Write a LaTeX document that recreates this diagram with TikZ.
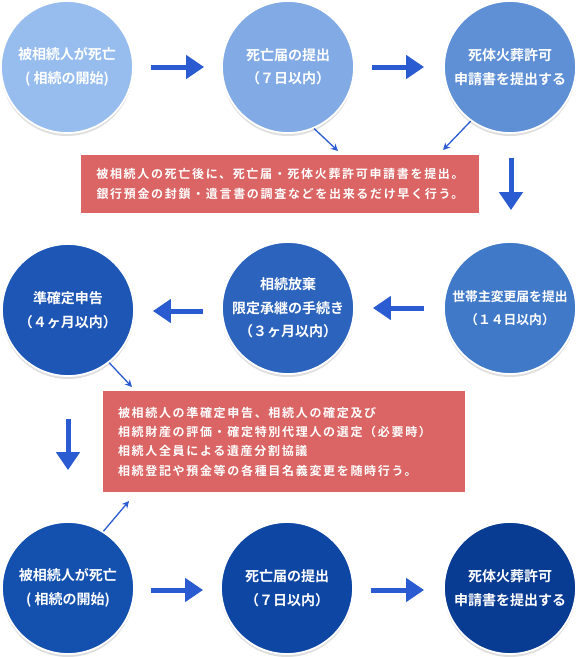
\documentclass[tikz,border=0pt]{standalone}
\usepackage{fontspec}
\setmainfont{Noto Sans CJK JP}[BoldFont={Noto Sans CJK JP Bold}]
\usetikzlibrary{arrows.meta,shadows,calc}
\definecolor{cA}{HTML}{97BDEF}
\definecolor{cB}{HTML}{82AAE5}
\definecolor{cC}{HTML}{5F90D6}
\definecolor{cD}{HTML}{4079C8}
\definecolor{cE}{HTML}{2C63BD}
\definecolor{cF}{HTML}{1D56B5}
\definecolor{cG}{HTML}{1450AE}
\definecolor{cH}{HTML}{0E46A4}
\definecolor{cI}{HTML}{083B92}
\definecolor{redbox}{HTML}{DB6464}
\definecolor{arrowblue}{HTML}{2B5BD0}
\tikzset{
  stepcircle/.style={circle, minimum size=132pt, inner sep=0pt, draw=white, line width=1.8pt,
    fill=#1, text=white, align=center,
    font=\fontsize{14}{23.5}\selectfont\bfseries,
    drop shadow={opacity=0.25, shadow xshift=0pt, shadow yshift=-3pt}},
  notebox/.style={rectangle, fill=redbox, text=white, inner sep=0pt,
    font=\fontsize{12}{20}\selectfont\bfseries\addfontfeature{LetterSpace=14}},
  bigarrow/.style={draw=arrowblue, line width=5pt, -{Triangle[length=18pt,width=23pt]}},
  thinarrow/.style={draw=arrowblue, line width=1.3pt, -{Stealth[length=7pt,width=7pt]}}
}
\begin{document}
\begin{tikzpicture}[x=1pt,y=-1pt]
\useasboundingbox (0,0) rectangle (579,657);
% row 1
\node[stepcircle=cA] (r1a) at (67,67) {被相続人が死亡\\( 相続の開始)};
\node[stepcircle=cB] (r1b) at (288,67) {死亡届の提出\\（７日以内）};
\node[stepcircle=cC] (r1c) at (510,67) {死体火葬許可\\申請書を提出する};
% row 2
\node[stepcircle=cF] (r2a) at (68,310) {準確定申告\\（４ヶ月以内）};
\node[stepcircle=cE] (r2b) at (288,308) {相続放棄\\限定承継の手続き\\（３ヶ月以内）};
\node[stepcircle=cD, font=\fontsize{12.8}{23.5}\selectfont\bfseries] (r2c) at (510,308) {世帯主変更届を提出\\（１４日以内）};
% row 3
\node[stepcircle=cG] (r3a) at (68,588) {被相続人が死亡\\( 相続の開始)};
\node[stepcircle=cH] (r3b) at (287,588) {死亡届の提出\\（７日以内）};
\node[stepcircle=cI] (r3c) at (510,588) {死体火葬許可\\申請書を提出する};
% boxes
\node[notebox, minimum width=398pt, minimum height=58pt, align=center] (n1) at (280,184)
  {被相続人の死亡後に、死亡届・死体火葬許可申請書を提出。\\銀行預金の封鎖・遺言書の調査などを出来るだけ早く行う。};
\node[notebox, minimum width=362pt, minimum height=101pt, align=left,
  font=\fontsize{12}{19.3}\selectfont\bfseries\addfontfeature{LetterSpace=14}] (n2) at (284,441.5)
  {\makebox[332pt][l]{\parbox{332pt}{被相続人の準確定申告、相続人の確定及び\\相続財産の評価・確定特別代理人の選定（必要時）\\相続人全員による遺産分割協議\\相続登記や預金等の各種目名義変更を随時行う。}}};
% coordinates for thin arrows
\coordinate (t1) at (338,151);
\coordinate (t2) at (443,150);
\coordinate (t3) at (132,387);
\coordinate (t4) at (129,501);
% big arrows
\draw[bigarrow] ($(r1a.east)+(17,0)$) -- ($(r1b.west)+(-17,0)$);
\draw[bigarrow] ($(r1b.east)+(17,0)$) -- ($(r1c.west)+(-19,0)$);
\draw[bigarrow] ($(r1c.south)+(1,24)$) -- ($(r2c.north)+(1,-31)$);
\draw[bigarrow] ($(r2c.west)+(-19,0)$) -- ($(r2b.east)+(18,0)$);
\draw[bigarrow] ($(r2b.west)+(-18,3)$) -- ($(r2a.east)+(18,1)$);
\draw[bigarrow] ($(r2a.south)+(0,42)$) -- ($(r3a.north)+(0,-51)$);
\draw[bigarrow] ($(r3a.east)+(16,2)$) -- ($(r3b.west)+(-17,2)$);
\draw[bigarrow] ($(r3b.east)+(17,2)$) -- ($(r3c.west)+(-19,2)$);
% thin arrows
\draw[thinarrow] (r1b.-67) -- (t1);
\draw[thinarrow] (r1c.-126) -- (t2);
\draw[thinarrow] (r2a.-52) -- (t3);
\draw[thinarrow] (r3a.58) -- (t4);
\end{tikzpicture}
\end{document}
